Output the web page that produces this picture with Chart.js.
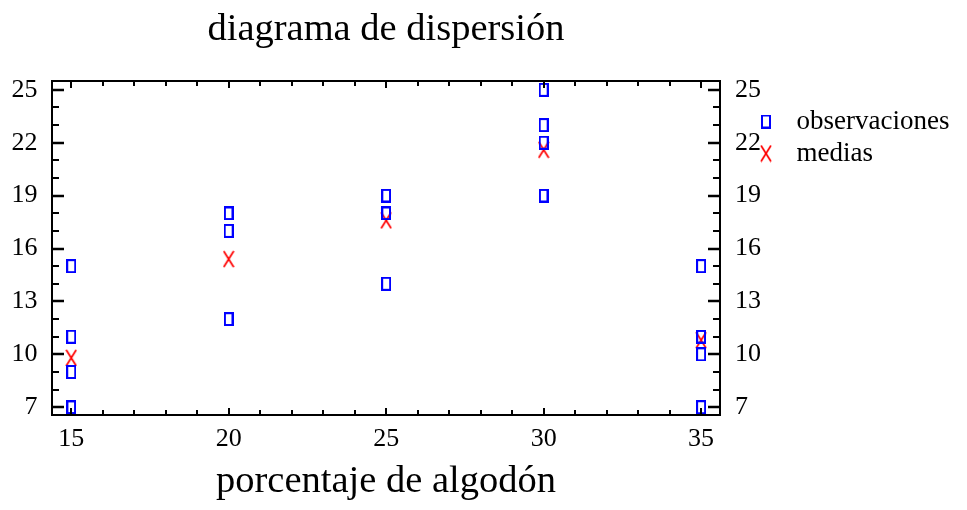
<!DOCTYPE html>
<html>
<head>
<meta charset="utf-8">
<script src="https://cdn.jsdelivr.net/npm/chart.js@4"></script>
<style>
  html, body { margin: 0; padding: 0; background: #ffffff; }
  #c { display: block; }
</style>
</head>
<body>
<canvas id="c" width="967" height="510"></canvas>
<script>
// ---- data ----
const chartTitle = 'diagrama de dispersión';
const xAxisTitle = 'porcentaje de algodón';
const seriesNames = ['observaciones', 'medias'];
const cottonPct = [15, 20, 25, 30, 35];
const obsAt15 = [7, 7, 15, 11, 9];
const obsAt20 = [12, 17, 12, 18, 18];
const obsAt25 = [14, 18, 18, 19, 19];
const obsAt30 = [19, 25, 22, 19, 23];
const obsAt35 = [7, 10, 11, 15, 11];
const groupMeans = [9.8, 15.4, 17.6, 21.6, 10.8];
const xTicks = [15, 20, 25, 30, 35];
const yTicks = [7, 10, 13, 16, 19, 22, 25];

const obsGroups = [obsAt15, obsAt20, obsAt25, obsAt30, obsAt35];
const obsPoints = [];
obsGroups.forEach((g, i) => g.forEach(v => obsPoints.push({x: cottonPct[i], y: v})));
const meanPoints = cottonPct.map((p, i) => ({x: p, y: groupMeans[i]}));

// ---- marker images ----
function rectMarker() {
  const c = document.createElement('canvas');
  c.width = 10; c.height = 14;
  const g = c.getContext('2d');
  g.strokeStyle = '#0000ff'; g.lineWidth = 2;
  g.strokeRect(1, 1, 8, 12);
  return c;
}
function crossMarker() {
  const c = document.createElement('canvas');
  c.width = 12; c.height = 18;
  const g = c.getContext('2d');
  g.strokeStyle = '#ff0000'; g.lineWidth = 1.7;
  g.beginPath();
  g.moveTo(1, 1); g.lineTo(11, 17);
  g.moveTo(11, 1); g.lineTo(1, 17);
  g.stroke();
  return c;
}

const FONT = "'Liberation Serif', 'Times New Roman', serif";
const X_MIN = 14.39, X_MAX = 35.6, Y_MIN = 6.56, Y_MAX = 25.5;

const tickMarks = {
  id: 'tickMarks',
  afterDatasetsDraw(chart) {
    const {ctx, chartArea: a, scales: {x, y}} = chart;
    ctx.save();
    ctx.strokeStyle = '#000';
    for (let v = Math.ceil(Y_MIN); v <= Y_MAX; v++) {
      const major = yTicks.includes(v);
      const py = Math.round(y.getPixelForValue(v));
      const len = major ? 12 : 7;
      ctx.lineWidth = major ? 2.6 : 2;
      ctx.beginPath();
      ctx.moveTo(a.left, py); ctx.lineTo(a.left + len, py);
      ctx.moveTo(a.right, py); ctx.lineTo(a.right - len, py);
      ctx.stroke();
    }
    for (let v = Math.ceil(X_MIN); v <= X_MAX; v++) {
      const major = xTicks.includes(v);
      const px = Math.round(x.getPixelForValue(v));
      const len = major ? 7 : 5;
      ctx.lineWidth = 2;
      ctx.beginPath();
      ctx.moveTo(px, a.bottom); ctx.lineTo(px, a.bottom - len);
      ctx.moveTo(px, a.top); ctx.lineTo(px, a.top + len);
      ctx.stroke();
    }
    ctx.restore();
  }
};

const rm = rectMarker(), xm = crossMarker();

new Chart(document.getElementById('c'), {
  type: 'scatter',
  data: {
    datasets: [
      { label: seriesNames[0], data: obsPoints, pointStyle: rm, pointRadius: 6, showLine: false,
        borderColor: '#0000ff', backgroundColor: 'rgba(0,0,0,0)' },
      { label: seriesNames[1], data: meanPoints, pointStyle: xm, pointRadius: 6, showLine: false,
        borderColor: '#ff0000', backgroundColor: 'rgba(0,0,0,0)' }
    ]
  },
  options: {
    responsive: false,
    devicePixelRatio: 1,
    animation: false,
    layout: { padding: { left: 0, top: 0, bottom: 0, right: 13 } },
    plugins: {
      title: { display: false },
      tooltip: { enabled: false },
      legend: {
        display: true,
        position: 'right',
        align: 'start',
        fullSize: false,
        maxWidth: 210,
        title: { display: true, text: '', font: { size: 15 }, padding: { top: 4, bottom: 0 } },
        labels: {
          usePointStyle: true,
          pointStyleWidth: 34,
          padding: 5,
          color: '#000',
          font: { family: FONT, size: 27 }
        }
      }
    },
    scales: {
      x: {
        type: 'linear', position: 'bottom', min: X_MIN, max: X_MAX,
        grid: { display: false, drawTicks: false },
        border: { display: true, color: '#000', width: 2 },
        afterBuildTicks: s => { s.ticks = xTicks.map(v => ({ value: v })); },
        ticks: { color: '#000', font: { family: FONT, size: 26 }, padding: 9, maxRotation: 0 },
        title: { display: true, text: xAxisTitle, color: '#000', font: { family: FONT, size: 38.5 }, padding: { top: 0, bottom: 5.5 } },
        afterFit: s => { s.height = 95; }
      },
      xTop: {
        type: 'linear', position: 'top', min: X_MIN, max: X_MAX,
        grid: { display: false, drawTicks: false },
        border: { display: true, color: '#000', width: 2 },
        ticks: { display: false },
        title: { display: true, text: chartTitle, color: '#000', font: { family: FONT, size: 38.5 }, padding: { top: 7, bottom: 0 } },
        afterFit: s => { s.height = 81; }
      },
      y: {
        type: 'linear', position: 'left', min: Y_MIN, max: Y_MAX,
        grid: { display: false, drawTicks: false },
        border: { display: true, color: '#000', width: 2 },
        afterBuildTicks: s => { s.ticks = yTicks.map(v => ({ value: v })); },
        ticks: { color: '#000', font: { family: FONT, size: 26 }, padding: 14.5 },
        afterFit: s => { s.width = 52; }
      },
      yRight: {
        type: 'linear', position: 'right', min: Y_MIN, max: Y_MAX,
        grid: { display: false, drawTicks: false },
        border: { display: true, color: '#000', width: 2 },
        afterBuildTicks: s => { s.ticks = yTicks.map(v => ({ value: v })); },
        ticks: { color: '#000', font: { family: FONT, size: 26 }, mirror: true, crossAlign: 'far', padding: 41 },
        afterFit: s => { s.width = 24; }
      }
    }
  },
  plugins: [tickMarks]
});
</script>
</body>
</html>
